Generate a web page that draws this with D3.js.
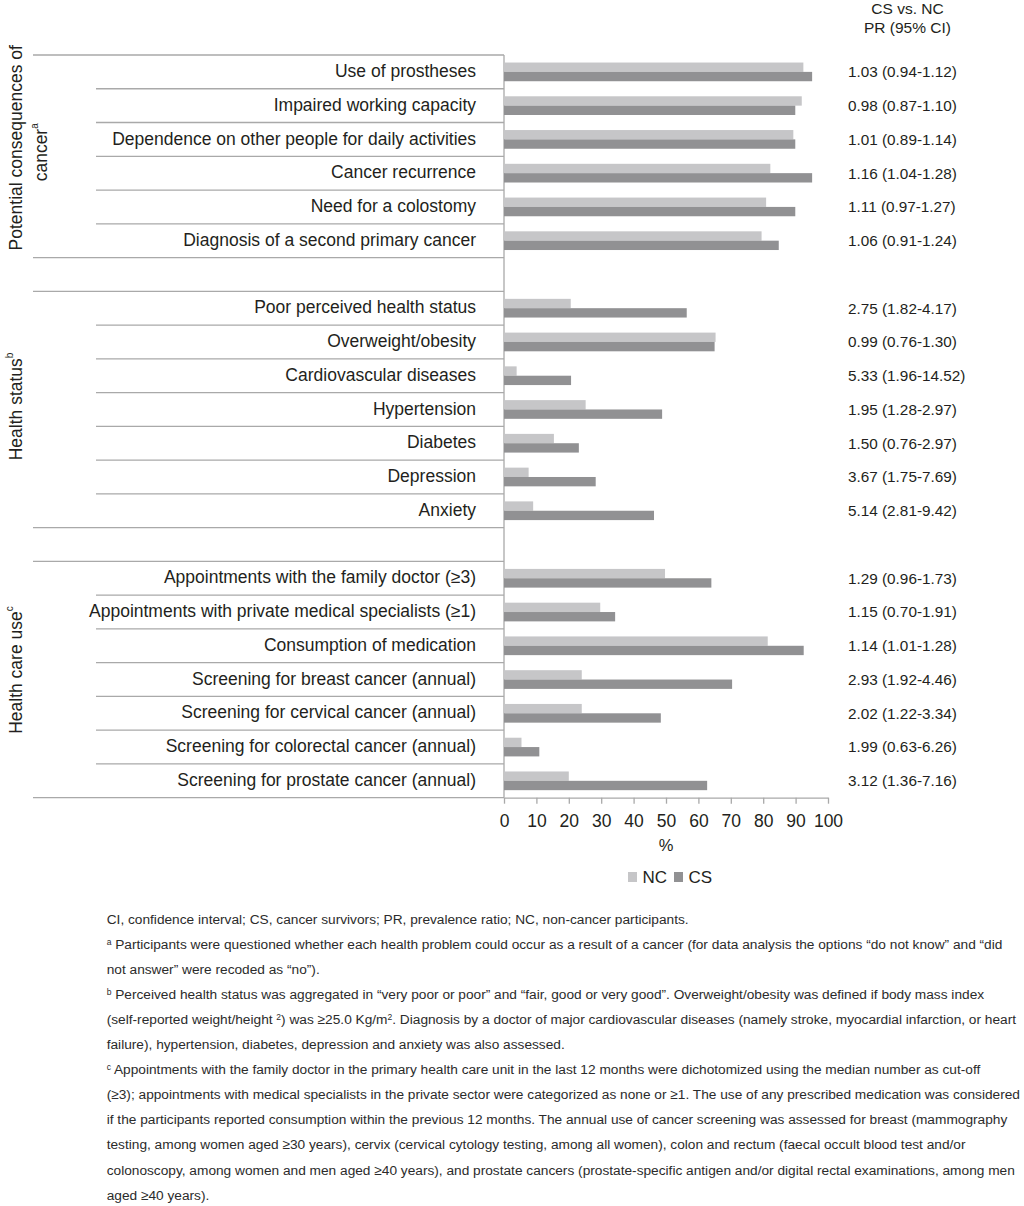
<!DOCTYPE html>
<html>
<head>
<meta charset="utf-8">
<script src="https://cdn.jsdelivr.net/npm/d3@7"></script>
<style>
  html, body { margin: 0; padding: 0; background: #fff; }
  svg text { font-family: "Liberation Sans", Arial, Helvetica, sans-serif; fill: #231f20; }
</style>
</head>
<body>
<svg id="chart" width="1024" height="1206"></svg>
<script>
// ---------------- DATA ----------------
const groupNames = ["Potential consequences of cancer", "Health status", "Health care use"];
const groupSup = ["a", "b", "c"];

const catConsequences = [
  "Use of prostheses",
  "Impaired working capacity",
  "Dependence on other people for daily activities",
  "Cancer recurrence",
  "Need for a colostomy",
  "Diagnosis of a second primary cancer"
];
const ncConsequences = [92.4, 91.9, 89.3, 82.2, 80.9, 79.5];
const csConsequences = [95.1, 89.9, 89.9, 95.1, 89.9, 84.8];
const prConsequences = ["1.03 (0.94-1.12)", "0.98 (0.87-1.10)", "1.01 (0.89-1.14)", "1.16 (1.04-1.28)", "1.11 (0.97-1.27)", "1.06 (0.91-1.24)"];

const catHealth = [
  "Poor perceived health status",
  "Overweight/obesity",
  "Cardiovascular diseases",
  "Hypertension",
  "Diabetes",
  "Depression",
  "Anxiety"
];
const ncHealth = [20.6, 65.3, 3.9, 25.2, 15.4, 7.6, 9.0];
const csHealth = [56.4, 65.0, 20.7, 48.8, 23.1, 28.3, 46.3];
const prHealth = ["2.75 (1.82-4.17)", "0.99 (0.76-1.30)", "5.33 (1.96-14.52)", "1.95 (1.28-2.97)", "1.50 (0.76-2.97)", "3.67 (1.75-7.69)", "5.14 (2.81-9.42)"];

const catCare = [
  "Appointments with the family doctor (≥3)",
  "Appointments with private medical specialists (≥1)",
  "Consumption of medication",
  "Screening for breast cancer (annual)",
  "Screening for cervical cancer (annual)",
  "Screening for colorectal cancer (annual)",
  "Screening for prostate cancer (annual)"
];
const ncCare = [49.7, 29.7, 81.4, 24.0, 24.0, 5.4, 20.0];
const csCare = [64.0, 34.3, 92.5, 70.4, 48.4, 10.9, 62.7];
const prCare = ["1.29 (0.96-1.73)", "1.15 (0.70-1.91)", "1.14 (1.01-1.28)", "2.93 (1.92-4.46)", "2.02 (1.22-3.34)", "1.99 (0.63-6.26)", "3.12 (1.36-7.16)"];

const xTicks = [0, 10, 20, 30, 40, 50, 60, 70, 80, 90, 100];
const seriesNames = ["NC", "CS"];
const prHeader = ["CS vs. NC", "PR (95% CI)"];
const xAxisTitle = "%";

// footnote lines: arrays of [text, isSuperscript]
const footnotes = [
  [["CI, confidence interval; CS, cancer survivors; PR, prevalence ratio; NC, non-cancer participants.", 0]],
  [["a", 1], [" Participants were questioned whether each health problem could occur as a result of a cancer (for data analysis the options “do not know” and “did", 0]],
  [["not answer” were recoded as “no”).", 0]],
  [["b", 1], [" Perceived health status was aggregated in “very poor or poor” and “fair, good or very good”. Overweight/obesity was defined if body mass index", 0]],
  [["(self-reported weight/height ", 0], ["2", 1], [") was ≥25.0 Kg/m", 0], ["2", 1], [". Diagnosis by a doctor of major cardiovascular diseases (namely stroke, myocardial infarction, or heart", 0]],
  [["failure), hypertension, diabetes, depression and anxiety was also assessed.", 0]],
  [["c", 1], [" Appointments with the family doctor in the primary health care unit in the last 12 months were dichotomized using the median number as cut-off", 0]],
  [["(≥3); appointments with medical specialists in the private sector were categorized as none or ≥1. The use of any prescribed medication was considered", 0]],
  [["if the participants reported consumption within the previous 12 months. The annual use of cancer screening was assessed for breast (mammography", 0]],
  [["testing, among women aged ≥30 years), cervix (cervical cytology testing, among all women), colon and rectum (faecal occult blood test and/or", 0]],
  [["colonoscopy, among women and men aged ≥40 years), and prostate cancers (prostate-specific antigen and/or digital rectal examinations, among men", 0]],
  [["aged ≥40 years).", 0]]
];

// ---------------- BUILD ROWS ----------------
const groups = [
  { cats: catConsequences, nc: ncConsequences, cs: csConsequences, pr: prConsequences },
  { cats: catHealth, nc: ncHealth, cs: csHealth, pr: prHealth },
  { cats: catCare, nc: ncCare, cs: csCare, pr: prCare }
];
const rows = [];
const domainKeys = [];
groups.forEach((g, gi) => {
  g.cats.forEach((c, i) => {
    const key = gi + "|" + c;
    rows.push({ key, group: gi, idx: i, label: c, nc: g.nc[i], cs: g.cs[i], pr: g.pr[i] });
    domainKeys.push(key);
  });
  if (gi < groups.length - 1) domainKeys.push("gap" + gi);
});

// ---------------- LAYOUT ----------------
const C = { nc: "#c6c6c8", cs: "#919193", line: "#a9a9a9" };
const svg = d3.select("#chart");

const x = d3.scaleLinear().domain([0, 100]).range([504, 828]);
const y = d3.scaleBand().domain(domainKeys).range([55, 797.7]).padding(0);
const bw = y.bandwidth();
const barH = bw * 0.277;

// group extents
const gExt = groups.map((g, gi) => {
  const keys = g.cats.map(c => gi + "|" + c);
  return { y0: y(keys[0]), y1: y(keys[keys.length - 1]) + bw };
});

// separator lines
const lines = svg.append("g").attr("stroke", C.line).attr("stroke-width", 1.3);
gExt.forEach((e, gi) => {
  lines.append("line").attr("x1", 33).attr("x2", x(0)).attr("y1", e.y0).attr("y2", e.y0);
  lines.append("line").attr("x1", 33).attr("x2", x(0)).attr("y1", e.y1).attr("y2", e.y1);
  groups[gi].cats.forEach((c, i) => {
    if (i === 0) return;
    const yy = y(gi + "|" + c);
    lines.append("line").attr("x1", 96).attr("x2", x(0)).attr("y1", yy).attr("y2", yy);
  });
});
// vertical axis
lines.append("line").attr("x1", x(0)).attr("x2", x(0)).attr("y1", 55).attr("y2", 797.7);

// bars
const bars = svg.append("g");
bars.selectAll("rect.nc").data(rows).join("rect")
  .attr("class", "nc")
  .attr("x", x(0))
  .attr("y", d => y(d.key) + bw / 2 - barH)
  .attr("width", d => x(d.nc) - x(0))
  .attr("height", barH)
  .attr("fill", C.nc);
bars.selectAll("rect.cs").data(rows).join("rect")
  .attr("class", "cs")
  .attr("x", x(0))
  .attr("y", d => y(d.key) + bw / 2)
  .attr("width", d => x(d.cs) - x(0))
  .attr("height", barH)
  .attr("fill", C.cs);

// row labels
svg.append("g").selectAll("text").data(rows).join("text")
  .attr("x", 476)
  .attr("y", d => y(d.key) + bw / 2 - 1)
  .attr("dy", "0.35em")
  .attr("text-anchor", "end")
  .attr("font-size", 17.5)
  .text(d => d.label);

// PR values
svg.append("g").selectAll("text").data(rows).join("text")
  .attr("x", 848)
  .attr("y", d => y(d.key) + bw / 2)
  .attr("dy", "0.35em")
  .attr("font-size", 15.3)
  .text(d => d.pr);

// PR header
svg.append("g").selectAll("text").data(prHeader).join("text")
  .attr("x", 907.5)
  .attr("y", (d, i) => 14 + i * 19)
  .attr("text-anchor", "middle")
  .attr("font-size", 15.5)
  .text(d => d);

// x axis
const axis = svg.append("g")
  .attr("transform", `translate(0,${797.7})`)
  .call(d3.axisBottom(x).tickValues(xTicks).tickSize(6).tickSizeOuter(0).tickPadding(11).tickFormat(d3.format("d")));
axis.select(".domain").attr("stroke", C.line).attr("stroke-width", 1.3);
axis.selectAll(".tick line").attr("stroke", C.line).attr("stroke-width", 1.3);
axis.selectAll(".tick text").attr("font-size", 17.5).attr("fill", "#231f20")
  .attr("font-family", '"Liberation Sans", Arial, sans-serif');

svg.append("text").attr("x", x(50)).attr("y", 851).attr("text-anchor", "middle")
  .attr("font-size", 16.5).text(xAxisTitle);

// legend
const legX = [628, 674];
const leg = svg.append("g");
seriesNames.forEach((s, i) => {
  leg.append("rect").attr("x", legX[i]).attr("y", 872).attr("width", 9).attr("height", 10)
    .attr("fill", i === 0 ? C.nc : C.cs);
  leg.append("text").attr("x", legX[i] + 14.5).attr("y", 882.5).attr("font-size", 17).text(s);
});

// group labels (rotated)
function rotLabel(bx, cy, parts) {
  const t = svg.append("text")
    .attr("transform", `translate(${bx},${cy}) rotate(-90)`)
    .attr("text-anchor", "middle")
    .attr("font-size", 17.5);
  parts.forEach(p => {
    const ts = t.append("tspan").text(p[0]);
    if (p[1]) ts.attr("font-size", 10).attr("dy", "-0.85em");
  });
  return t;
}
const gc = gExt.map(e => (e.y0 + e.y1) / 2);
rotLabel(21.7, gc[0] - 8.5, [["Potential consequences of", 0]]);
rotLabel(46.7, gc[0] - 4, [["cancer", 0], [groupSup[0], 1]]);
rotLabel(21.7, gc[1] - 3, [["Health status", 0], [groupSup[1], 1]]);
rotLabel(21.7, gc[2] - 9.5, [["Health care use", 0], [groupSup[2], 1]]);

// footnotes
const fn = svg.append("g");
footnotes.forEach((line, i) => {
  const t = fn.append("text").attr("x", 106.7).attr("y", 923.5 + i * 25.1)
    .attr("font-size", 13.7).style("fill", "#2b2b2b");
  line.forEach(p => {
    const ts = t.append("tspan").text(p[0]);
    if (p[1]) {
      ts.attr("font-size", 8.5).attr("baseline-shift", "4.5");
    }
  });
});
</script>
</body>
</html>
